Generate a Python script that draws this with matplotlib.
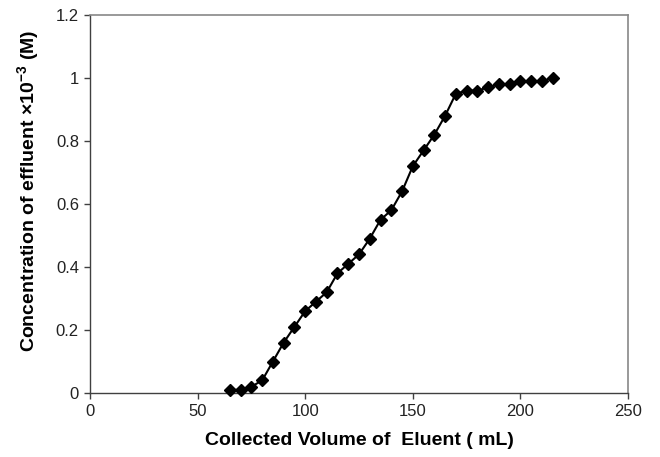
import matplotlib
matplotlib.use("Agg")
import matplotlib.pyplot as plt
import numpy as np

# breakthrough curve: effluent concentration vs. collected eluent volume
volume_ml = [65, 70, 75, 80, 85, 90, 95, 100, 105, 110, 115, 120, 125, 130, 135, 140,
             145, 150, 155, 160, 165, 170, 175, 180, 185, 190, 195, 200, 205, 210, 215]
conc = [0.01, 0.01, 0.02, 0.04, 0.10, 0.16, 0.21, 0.26, 0.29, 0.32, 0.38, 0.41, 0.44, 0.49, 0.55, 0.58,
        0.64, 0.72, 0.77, 0.82, 0.88, 0.95, 0.96, 0.96, 0.97, 0.98, 0.98, 0.99, 0.99, 0.99, 1.00]

xticks = [0, 50, 100, 150, 200, 250]
yticks = [0, 0.2, 0.4, 0.6, 0.8, 1, 1.2]
ytick_labels = ["0", "0.2", "0.4", "0.6", "0.8", "1", "1.2"]

plt.rcParams['font.family'] = ['Liberation Sans', 'DejaVu Sans']
plt.rcParams['mathtext.fontset'] = 'custom'
plt.rcParams['mathtext.rm'] = 'Liberation Sans'
plt.rcParams['mathtext.bf'] = 'Liberation Sans:bold'

fig = plt.figure(figsize=(6.6, 4.57), dpi=100)
ax = fig.add_axes([90/660, 1 - 393/457, (628 - 90)/660, (393 - 15)/457])

ax.plot(volume_ml, conc, color='black', lw=1.5, marker='D', ms=6,
        mfc='black', mec='black', clip_on=False, zorder=3)

ax.set_xlim(0, 250)
ax.set_ylim(0, 1.2)
ax.set_xticks(xticks)
ax.set_yticks(yticks)
ax.set_yticklabels(ytick_labels)

for side in ['left', 'bottom']:
    ax.spines[side].set_color('#404040')
    ax.spines[side].set_linewidth(1.0)
for side in ['top', 'right']:
    ax.spines[side].set_color('#888888')
    ax.spines[side].set_linewidth(1.2)

ax.tick_params(direction='out', length=4, width=1, color='#404040',
               labelsize=12, labelcolor='#222222', pad=4)

ax.set_xlabel('Collected Volume of  Eluent ( mL)', fontsize=14, fontweight='bold', labelpad=9)
ax.set_ylabel(r'Concentration of effluent ×10$^{\mathbf{-3}}$ (M)', fontsize=14,
              fontweight='bold')
ax.yaxis.set_label_coords(-0.09, 0.535)

fig.savefig('out.png', dpi=100)
